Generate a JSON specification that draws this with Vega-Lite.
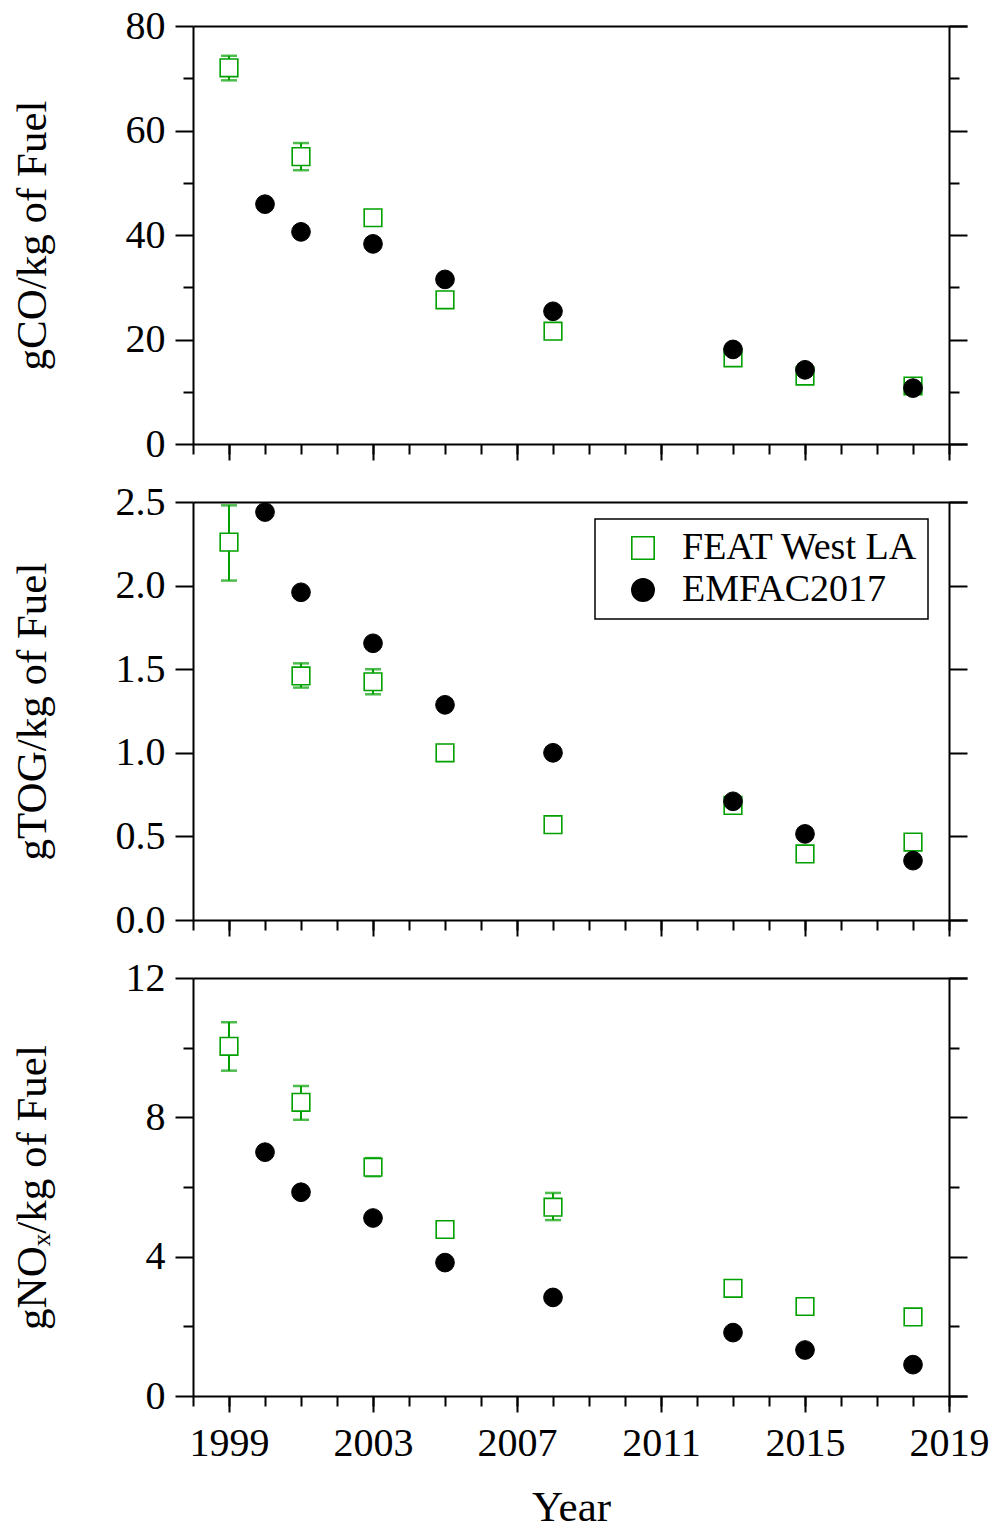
{
  "$schema": "https://vega.github.io/schema/vega-lite/v6.json",
  "padding": {"left": 10, "top": 6, "right": 0, "bottom": 0},
  "background": "white",
  "datasets": {
    "emis": [
      {"panel": "CO", "series": "FEAT West LA", "year": 1999, "value": 72.0, "lo": 69.6, "hi": 74.3},
      {"panel": "CO", "series": "FEAT West LA", "year": 2001, "value": 55.0, "lo": 52.4, "hi": 57.6},
      {"panel": "CO", "series": "FEAT West LA", "year": 2003, "value": 43.3, "lo": null, "hi": null},
      {"panel": "CO", "series": "FEAT West LA", "year": 2005, "value": 27.6, "lo": null, "hi": null},
      {"panel": "CO", "series": "FEAT West LA", "year": 2008, "value": 21.6, "lo": null, "hi": null},
      {"panel": "CO", "series": "FEAT West LA", "year": 2013, "value": 16.5, "lo": null, "hi": null},
      {"panel": "CO", "series": "FEAT West LA", "year": 2015, "value": 13.0, "lo": null, "hi": null},
      {"panel": "CO", "series": "FEAT West LA", "year": 2018, "value": 11.1, "lo": null, "hi": null},
      {"panel": "CO", "series": "EMFAC2017", "year": 2000, "value": 45.9, "lo": null, "hi": null},
      {"panel": "CO", "series": "EMFAC2017", "year": 2001, "value": 40.6, "lo": null, "hi": null},
      {"panel": "CO", "series": "EMFAC2017", "year": 2003, "value": 38.3, "lo": null, "hi": null},
      {"panel": "CO", "series": "EMFAC2017", "year": 2005, "value": 31.5, "lo": null, "hi": null},
      {"panel": "CO", "series": "EMFAC2017", "year": 2008, "value": 25.4, "lo": null, "hi": null},
      {"panel": "CO", "series": "EMFAC2017", "year": 2013, "value": 18.1, "lo": null, "hi": null},
      {"panel": "CO", "series": "EMFAC2017", "year": 2015, "value": 14.2, "lo": null, "hi": null},
      {"panel": "CO", "series": "EMFAC2017", "year": 2018, "value": 10.7, "lo": null, "hi": null},
      {"panel": "TOG", "series": "FEAT West LA", "year": 1999, "value": 2.26, "lo": 2.03, "hi": 2.48},
      {"panel": "TOG", "series": "FEAT West LA", "year": 2001, "value": 1.46, "lo": 1.39, "hi": 1.535},
      {"panel": "TOG", "series": "FEAT West LA", "year": 2003, "value": 1.425, "lo": 1.35, "hi": 1.5},
      {"panel": "TOG", "series": "FEAT West LA", "year": 2005, "value": 1.0, "lo": null, "hi": null},
      {"panel": "TOG", "series": "FEAT West LA", "year": 2008, "value": 0.57, "lo": null, "hi": null},
      {"panel": "TOG", "series": "FEAT West LA", "year": 2013, "value": 0.685, "lo": null, "hi": null},
      {"panel": "TOG", "series": "FEAT West LA", "year": 2015, "value": 0.395, "lo": null, "hi": null},
      {"panel": "TOG", "series": "FEAT West LA", "year": 2018, "value": 0.466, "lo": null, "hi": null},
      {"panel": "TOG", "series": "EMFAC2017", "year": 2000, "value": 2.44, "lo": null, "hi": null},
      {"panel": "TOG", "series": "EMFAC2017", "year": 2001, "value": 1.96, "lo": null, "hi": null},
      {"panel": "TOG", "series": "EMFAC2017", "year": 2003, "value": 1.655, "lo": null, "hi": null},
      {"panel": "TOG", "series": "EMFAC2017", "year": 2005, "value": 1.287, "lo": null, "hi": null},
      {"panel": "TOG", "series": "EMFAC2017", "year": 2008, "value": 1.0, "lo": null, "hi": null},
      {"panel": "TOG", "series": "EMFAC2017", "year": 2013, "value": 0.71, "lo": null, "hi": null},
      {"panel": "TOG", "series": "EMFAC2017", "year": 2015, "value": 0.515, "lo": null, "hi": null},
      {"panel": "TOG", "series": "EMFAC2017", "year": 2018, "value": 0.355, "lo": null, "hi": null},
      {"panel": "NOx", "series": "FEAT West LA", "year": 1999, "value": 10.04, "lo": 9.34, "hi": 10.73},
      {"panel": "NOx", "series": "FEAT West LA", "year": 2001, "value": 8.43, "lo": 7.93, "hi": 8.9},
      {"panel": "NOx", "series": "FEAT West LA", "year": 2003, "value": 6.57, "lo": 6.31, "hi": 6.83},
      {"panel": "NOx", "series": "FEAT West LA", "year": 2005, "value": 4.78, "lo": null, "hi": null},
      {"panel": "NOx", "series": "FEAT West LA", "year": 2008, "value": 5.42, "lo": 5.05, "hi": 5.83},
      {"panel": "NOx", "series": "FEAT West LA", "year": 2013, "value": 3.09, "lo": null, "hi": null},
      {"panel": "NOx", "series": "FEAT West LA", "year": 2015, "value": 2.57, "lo": null, "hi": null},
      {"panel": "NOx", "series": "FEAT West LA", "year": 2018, "value": 2.27, "lo": null, "hi": null},
      {"panel": "NOx", "series": "EMFAC2017", "year": 2000, "value": 7.0, "lo": null, "hi": null},
      {"panel": "NOx", "series": "EMFAC2017", "year": 2001, "value": 5.85, "lo": null, "hi": null},
      {"panel": "NOx", "series": "EMFAC2017", "year": 2003, "value": 5.11, "lo": null, "hi": null},
      {"panel": "NOx", "series": "EMFAC2017", "year": 2005, "value": 3.83, "lo": null, "hi": null},
      {"panel": "NOx", "series": "EMFAC2017", "year": 2008, "value": 2.83, "lo": null, "hi": null},
      {"panel": "NOx", "series": "EMFAC2017", "year": 2013, "value": 1.82, "lo": null, "hi": null},
      {"panel": "NOx", "series": "EMFAC2017", "year": 2015, "value": 1.32, "lo": null, "hi": null},
      {"panel": "NOx", "series": "EMFAC2017", "year": 2018, "value": 0.9, "lo": null, "hi": null}
    ]
  },
  "data": {"name": "emis"},
  "config": {
    "view": {"stroke": null},
    "font": "Liberation Serif",
    "axis": {
      "grid": false,
      "domainColor": "black",
      "domainWidth": 2,
      "tickColor": "black",
      "tickWidth": 2,
      "labelFont": "Liberation Serif",
      "labelFontSize": 40,
      "labelColor": "black",
      "titleFont": "Liberation Serif",
      "titleFontSize": 43,
      "titleFontWeight": "normal",
      "titleColor": "black"
    },
    "legend": {"strokeWidth": 1.5}
  },
  "bounds": "flush",
  "spacing": 58,
  "resolve": {"legend": {"shape": "independent", "fill": "independent", "stroke": "independent"}},
  "vconcat": [
    {
      "width": 774,
      "height": 418,
      "transform": [{"filter": "datum.panel === 'CO'"}],
      "resolve": {"axis": {"x": "independent", "y": "independent"}},
      "layer": [
        {
          "transform": [{"filter": "isValid(datum.lo)"}],
          "mark": {"type": "rule", "color": "#00a000", "strokeWidth": 2},
          "encoding": {
            "x": {"field": "year", "type": "quantitative", "scale": {"domain": [1998, 2019.5], "nice": false, "zero": false},
              "axis": {"orient": "bottom", "values": [1999, 2003, 2007, 2011, 2015, 2019], "tickSize": 16, "labels": false, "title": null}},
            "y": {"field": "lo", "type": "quantitative", "scale": {"domain": [0, 80], "nice": false},
              "axis": {"orient": "left", "values": [0, 20, 40, 60, 80], "format": "d", "tickSize": 18, "labelPadding": 10, "title": "gCO/kg of Fuel", "titleX": -139, "titleY": 209}},
            "y2": {"field": "hi"}
          }
        },
        {
          "transform": [{"filter": "isValid(datum.lo)"}],
          "mark": {"type": "tick", "orient": "horizontal", "color": "#00a000", "size": 16, "thickness": 2.5},
          "encoding": {
            "x": {"field": "year", "type": "quantitative",
              "axis": {"orient": "bottom", "values": [1998, 1999, 2000, 2001, 2002, 2003, 2004, 2005, 2006, 2007, 2008, 2009, 2010, 2011, 2012, 2013, 2014, 2015, 2016, 2017, 2018, 2019], "tickSize": 10, "labels": false, "domain": false, "title": null}},
            "y": {"field": "lo", "type": "quantitative",
              "axis": {"orient": "left", "values": [10, 30, 50, 70], "tickSize": 10, "labels": false, "domain": false, "title": null}}
          }
        },
        {
          "transform": [{"filter": "isValid(datum.hi)"}],
          "mark": {"type": "tick", "orient": "horizontal", "color": "#00a000", "size": 16, "thickness": 2.5},
          "encoding": {
            "x": {"field": "year", "type": "quantitative",
              "axis": {"orient": "top", "ticks": false, "labels": false, "domain": true, "title": null}},
            "y": {"field": "hi", "type": "quantitative",
              "axis": {"orient": "right", "offset": -18, "values": [0, 20, 40, 60, 80], "tickSize": 18, "labels": false, "domain": true, "title": null}}
          }
        },
        {
          "transform": [{"filter": "datum.series === 'FEAT West LA'"}],
          "mark": {"type": "point", "size": 310, "strokeWidth": 1.6, "opacity": 1},
          "encoding": {
            "x": {"field": "year", "type": "quantitative", "axis": null},
            "y": {"field": "value", "type": "quantitative",
              "axis": {"orient": "right", "offset": -18, "values": [10, 30, 50, 70], "tickSize": 10, "labels": false, "domain": false, "title": null}},
            "shape": {"field": "series", "type": "nominal", "scale": {"domain": ["FEAT West LA", "EMFAC2017"], "range": ["square", "circle"]}, "legend": null},
            "fill": {"field": "series", "type": "nominal", "scale": {"domain": ["FEAT West LA", "EMFAC2017"], "range": ["white", "black"]}, "legend": null},
            "stroke": {"field": "series", "type": "nominal", "scale": {"domain": ["FEAT West LA", "EMFAC2017"], "range": ["#00a000", "black"]}, "legend": null}
          }
        },
        {
          "transform": [{"filter": "datum.series === 'EMFAC2017'"}],
          "mark": {"type": "point", "size": 350, "strokeWidth": 1, "opacity": 1},
          "encoding": {
            "x": {"field": "year", "type": "quantitative", "axis": null},
            "y": {"field": "value", "type": "quantitative", "axis": null},
            "shape": {"field": "series", "type": "nominal", "legend": null},
            "fill": {"field": "series", "type": "nominal", "legend": null},
            "stroke": {"field": "series", "type": "nominal", "legend": null}
          }
        }
      ]
    },
    {
      "width": 774,
      "height": 418,
      "transform": [{"filter": "datum.panel === 'TOG'"}],
      "resolve": {"axis": {"x": "independent", "y": "independent"}},
      "layer": [
        {
          "transform": [{"filter": "isValid(datum.lo)"}],
          "mark": {"type": "rule", "color": "#00a000", "strokeWidth": 2},
          "encoding": {
            "x": {"field": "year", "type": "quantitative", "scale": {"domain": [1998, 2019.5], "nice": false, "zero": false},
              "axis": {"orient": "bottom", "values": [1999, 2003, 2007, 2011, 2015, 2019], "tickSize": 16, "labels": false, "title": null}},
            "y": {"field": "lo", "type": "quantitative", "scale": {"domain": [0, 2.5], "nice": false},
              "axis": {"orient": "left", "values": [0, 0.5, 1, 1.5, 2, 2.5], "format": ".1f", "tickSize": 18, "labelPadding": 10, "title": "gTOG/kg of Fuel", "titleX": -139, "titleY": 209}},
            "y2": {"field": "hi"}
          }
        },
        {
          "transform": [{"filter": "isValid(datum.lo)"}],
          "mark": {"type": "tick", "orient": "horizontal", "color": "#00a000", "size": 16, "thickness": 2.5},
          "encoding": {
            "x": {"field": "year", "type": "quantitative",
              "axis": {"orient": "bottom", "values": [1998, 1999, 2000, 2001, 2002, 2003, 2004, 2005, 2006, 2007, 2008, 2009, 2010, 2011, 2012, 2013, 2014, 2015, 2016, 2017, 2018, 2019], "tickSize": 10, "labels": false, "domain": false, "title": null}},
            "y": {"field": "lo", "type": "quantitative", "axis": null}
          }
        },
        {
          "transform": [{"filter": "isValid(datum.hi)"}],
          "mark": {"type": "tick", "orient": "horizontal", "color": "#00a000", "size": 16, "thickness": 2.5},
          "encoding": {
            "x": {"field": "year", "type": "quantitative",
              "axis": {"orient": "top", "ticks": false, "labels": false, "domain": true, "title": null}},
            "y": {"field": "hi", "type": "quantitative",
              "axis": {"orient": "right", "offset": -18, "values": [0, 0.5, 1, 1.5, 2, 2.5], "tickSize": 18, "labels": false, "domain": true, "title": null}}
          }
        },
        {
          "transform": [{"filter": "datum.series === 'FEAT West LA'"}],
          "mark": {"type": "point", "size": 310, "strokeWidth": 1.6, "opacity": 1},
          "encoding": {
            "x": {"field": "year", "type": "quantitative", "axis": null},
            "y": {"field": "value", "type": "quantitative", "axis": null},
            "shape": {"field": "series", "type": "nominal", "scale": {"domain": ["FEAT West LA", "EMFAC2017"], "range": ["square", "circle"]}},
            "fill": {"field": "series", "type": "nominal", "scale": {"domain": ["FEAT West LA", "EMFAC2017"], "range": ["white", "black"]}},
            "stroke": {"field": "series", "type": "nominal", "scale": {"domain": ["FEAT West LA", "EMFAC2017"], "range": ["#00a000", "black"]},
              "legend": {"title": null, "orient": "none", "legendX": 402, "legendY": 17, "direction": "vertical", "strokeColor": "black", "fillColor": "white", "padding": 10, "symbolSize": 500, "symbolOffset": 19, "labelOffset": 20, "labelLimit": 500, "labelFont": "Liberation Serif", "labelFontSize": 38, "labelColor": "black", "rowPadding": 4, "symbolStrokeWidth": 1.6}}
          }
        },
        {
          "transform": [{"filter": "datum.series === 'EMFAC2017'"}],
          "mark": {"type": "point", "size": 350, "strokeWidth": 1, "opacity": 1},
          "encoding": {
            "x": {"field": "year", "type": "quantitative", "axis": null},
            "y": {"field": "value", "type": "quantitative", "axis": null},
            "shape": {"field": "series", "type": "nominal"},
            "fill": {"field": "series", "type": "nominal"},
            "stroke": {"field": "series", "type": "nominal"}
          }
        }
      ]
    },
    {
      "width": 774,
      "height": 418,
      "transform": [{"filter": "datum.panel === 'NOx'"}],
      "resolve": {"axis": {"x": "independent", "y": "independent"}},
      "layer": [
        {
          "transform": [{"filter": "isValid(datum.lo)"}],
          "mark": {"type": "rule", "color": "#00a000", "strokeWidth": 2},
          "encoding": {
            "x": {"field": "year", "type": "quantitative", "scale": {"domain": [1998, 2019.5], "nice": false, "zero": false},
              "axis": {"orient": "bottom", "values": [1999, 2003, 2007, 2011, 2015, 2019], "format": "d", "tickSize": 16, "labelPadding": 11, "title": "Year", "titlePadding": 23, "titleX": 378}},
            "y": {"field": "lo", "type": "quantitative", "scale": {"domain": [0, 12], "nice": false},
              "axis": {"orient": "left", "values": [0, 4, 8, 12], "format": "d", "tickSize": 18, "labelPadding": 10, "title": "gNOₓ/kg of Fuel", "titleX": -139, "titleY": 209}},
            "y2": {"field": "hi"}
          }
        },
        {
          "transform": [{"filter": "isValid(datum.lo)"}],
          "mark": {"type": "tick", "orient": "horizontal", "color": "#00a000", "size": 16, "thickness": 2.5},
          "encoding": {
            "x": {"field": "year", "type": "quantitative",
              "axis": {"orient": "bottom", "values": [1998, 1999, 2000, 2001, 2002, 2003, 2004, 2005, 2006, 2007, 2008, 2009, 2010, 2011, 2012, 2013, 2014, 2015, 2016, 2017, 2018, 2019], "tickSize": 10, "labels": false, "domain": false, "title": null}},
            "y": {"field": "lo", "type": "quantitative",
              "axis": {"orient": "left", "values": [2, 6, 10], "tickSize": 10, "labels": false, "domain": false, "title": null}}
          }
        },
        {
          "transform": [{"filter": "isValid(datum.hi)"}],
          "mark": {"type": "tick", "orient": "horizontal", "color": "#00a000", "size": 16, "thickness": 2.5},
          "encoding": {
            "x": {"field": "year", "type": "quantitative",
              "axis": {"orient": "top", "ticks": false, "labels": false, "domain": true, "title": null}},
            "y": {"field": "hi", "type": "quantitative",
              "axis": {"orient": "right", "offset": -18, "values": [0, 4, 8, 12], "tickSize": 18, "labels": false, "domain": true, "title": null}}
          }
        },
        {
          "transform": [{"filter": "datum.series === 'FEAT West LA'"}],
          "mark": {"type": "point", "size": 310, "strokeWidth": 1.6, "opacity": 1},
          "encoding": {
            "x": {"field": "year", "type": "quantitative", "axis": null},
            "y": {"field": "value", "type": "quantitative",
              "axis": {"orient": "right", "offset": -18, "values": [2, 6, 10], "tickSize": 10, "labels": false, "domain": false, "title": null}},
            "shape": {"field": "series", "type": "nominal", "scale": {"domain": ["FEAT West LA", "EMFAC2017"], "range": ["square", "circle"]}, "legend": null},
            "fill": {"field": "series", "type": "nominal", "scale": {"domain": ["FEAT West LA", "EMFAC2017"], "range": ["white", "black"]}, "legend": null},
            "stroke": {"field": "series", "type": "nominal", "scale": {"domain": ["FEAT West LA", "EMFAC2017"], "range": ["#00a000", "black"]}, "legend": null}
          }
        },
        {
          "transform": [{"filter": "datum.series === 'EMFAC2017'"}],
          "mark": {"type": "point", "size": 350, "strokeWidth": 1, "opacity": 1},
          "encoding": {
            "x": {"field": "year", "type": "quantitative", "axis": null},
            "y": {"field": "value", "type": "quantitative", "axis": null},
            "shape": {"field": "series", "type": "nominal", "legend": null},
            "fill": {"field": "series", "type": "nominal", "legend": null},
            "stroke": {"field": "series", "type": "nominal", "legend": null}
          }
        }
      ]
    }
  ]
}
